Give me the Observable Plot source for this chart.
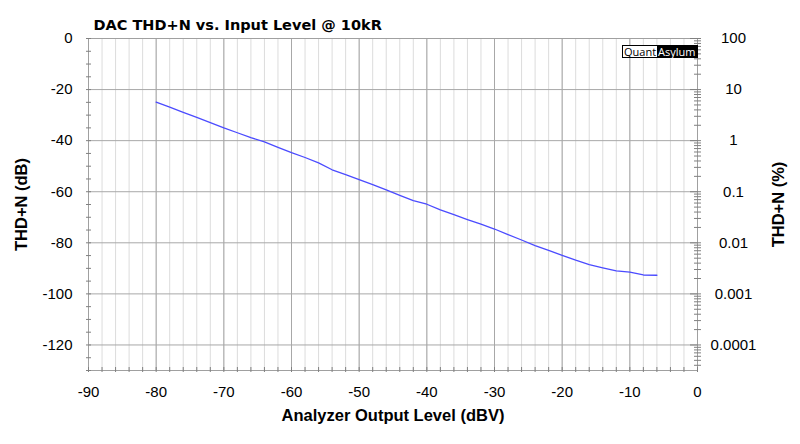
<!DOCTYPE html>
<html><head><meta charset="utf-8">
<script src="https://cdn.jsdelivr.net/npm/d3@7"></script>
<script src="https://cdn.jsdelivr.net/npm/@observablehq/plot@0.6"></script>
<style>
body{margin:0;background:#fff;}
#wrap{position:relative;width:800px;height:444px;background:#fff;}
#logo{position:absolute;left:622px;top:45px;display:flex;border:1px solid #000;font:11px "Open Sans",sans-serif;line-height:11px;}
#logo .q{background:#fff;color:#000;padding:0 1px;}
#logo .a{background:#000;color:#fff;padding:0 1px;}
</style></head><body><div id="wrap"></div>
<script>
const title = "DAC THD+N vs. Input Level @ 10kR";
const xLabel = "Analyzer Output Level (dBV)";
const yLabel = "THD+N (dB)";
const y2Label = "THD+N (%)";
const outputLevel = [-80,-78,-76,-74,-72,-70,-68,-66,-64,-62,-60,-58,-56,-54,-52,-50,-48,-46,-44,-42,-40,-38,-36,-34,-32,-30,-28,-26,-24,-22,-20,-18,-16,-14,-12,-10,-8,-6];
const thdN = [-24.9,-26.9,-28.9,-30.9,-32.9,-35.0,-36.9,-38.8,-40.5,-42.6,-44.7,-46.6,-48.7,-51.4,-53.3,-55.3,-57.2,-59.3,-61.4,-63.5,-64.9,-67.1,-69.0,-70.9,-72.7,-74.6,-76.8,-78.9,-81.1,-83.0,-84.9,-86.8,-88.5,-89.8,-91.0,-91.5,-92.6,-92.7];
const xTicks = [-90,-80,-70,-60,-50,-40,-30,-20,-10,0];
const yTicks = [0,-20,-40,-60,-80,-100,-120];
const pctLabels = ["100","10","1","0.1","0.01","0.001","0.0001"];

const xMinor = d3.range(-90, 0.1, 2);
const yMinor = d3.range(-130, 0.1, 5);
const pctMinor = [];
for (let n = -6; n <= 1; n++) for (let k = 2; k <= 9; k++) {
  const db = 20 * Math.log10(k * Math.pow(10, n) / 100);
  if (db >= -130 && db <= 0) pctMinor.push(db);
}
const data = outputLevel.map((x, i) => ({x, y: thdN[i]}));
const tickColor = "#808080";
const blank = () => "";
const plain = d => String(d);

const plot = Plot.plot({
  width: 800, height: 444,
  marginLeft: 88, marginRight: 103, marginTop: 38, marginBottom: 74,
  x: {domain: [-90, 0]},
  y: {domain: [-130, 0]},
  style: {fontFamily: "'Liberation Sans', Arial, sans-serif", fontSize: "15px", color: "#000", background: "#fff", overflow: "visible"},
  marks: [
    Plot.gridX(xMinor, {stroke: "#dcdcdc", strokeOpacity: 1}),
    Plot.gridX(xTicks, {stroke: "#a8a8a8", strokeOpacity: 1}),
    Plot.gridY(yTicks, {stroke: "#a8a8a8", strokeOpacity: 1}),
    Plot.frame({stroke: "#a0a0a0"}),
    Plot.axisX(xMinor, {tickSize: 5, dy: -3, tickFormat: blank, label: null, stroke: tickColor}),
    Plot.axisY(yMinor, {tickSize: 5, dx: 3, tickFormat: blank, label: null, stroke: tickColor}),
    Plot.axisY(pctMinor, {anchor: "right", tickSize: 7, dx: -4, tickFormat: blank, label: null, stroke: tickColor}),
    Plot.axisY(yTicks, {anchor: "right", tickSize: 11, dx: -8, tickFormat: blank, label: null, stroke: tickColor}),
    Plot.axisX(xTicks, {tickSize: 0, tickPadding: 16, label: null, tickFormat: plain}),
    Plot.axisY(yTicks, {tickSize: 0, tickPadding: 16, label: null, tickFormat: plain}),
    Plot.axisY(yTicks, {anchor: "right", tickSize: 0, tickPadding: 0, dx: 36, textAnchor: "middle", label: null, tickFormat: d => pctLabels[yTicks.indexOf(d)]}),
    Plot.line(data, {x: "x", y: "y", stroke: "#4b4bff", strokeWidth: 1.3}),
    Plot.text([xLabel], {frameAnchor: "bottom", dy: 50, fontWeight: "bold", fontSize: 16.5}),
    Plot.text([yLabel], {frameAnchor: "left", dx: -67, rotate: -90, textAnchor: "middle", fontWeight: "bold", fontSize: 16.5}),
    Plot.text([y2Label], {frameAnchor: "right", dx: 81, rotate: -90, textAnchor: "middle", fontWeight: "bold", fontSize: 16.5}),
    Plot.text([title], {frameAnchor: "top-left", dx: 5, dy: -19, textAnchor: "start", fontFamily: "'DejaVu Sans', Verdana, sans-serif", fontWeight: "bold", fontSize: 14.5})
  ]
});
const wrap = document.getElementById("wrap");
wrap.appendChild(plot);
const logo = document.createElement("div");
logo.id = "logo";
logo.innerHTML = '<span class="q">Quant</span><span class="a">Asylum</span>';
wrap.appendChild(logo);
</script></body></html>
